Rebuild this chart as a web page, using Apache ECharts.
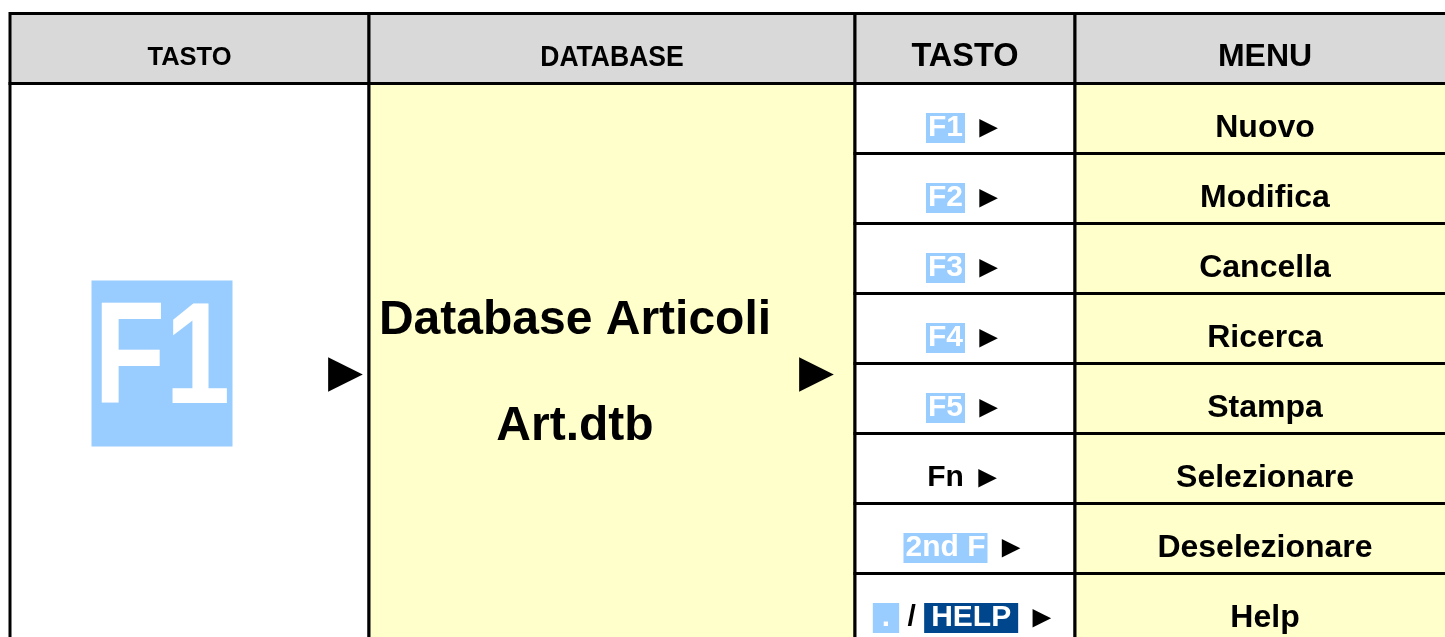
<!DOCTYPE html>
<html><head><meta charset="utf-8">
<script src="https://cdn.jsdelivr.net/npm/echarts@6/dist/echarts.min.js"></script>
<style>html,body{margin:0;padding:0;background:#fff}#c{width:1445px;height:637px}</style>
</head><body><div id="c"></div>
<script>
// ---- data ----
const headers = ['TASTO', 'DATABASE', 'TASTO', 'MENU'];
const mainKey = 'F1';
const databaseLines = ['Database Articoli', 'Art.dtb'];
const menuKeys = ['F1', 'F2', 'F3', 'F4', 'F5', 'Fn', '2nd F', '. / HELP'];
const menuItems = ['Nuovo', 'Modifica', 'Cancella', 'Ricerca', 'Stampa', 'Selezionare', 'Deselezionare', 'Help'];
const arrow = '\u25BA';

// ---- layout / style ----
const FONT = '"Liberation Sans", Arial, sans-serif';
const ROW_H = 70;
const TOP = 13.5, LEFT = 10, W = 1445, H = 637;
const colEdges = [0, 359, 845, 1065, 1445];   // last column runs past the right edge
const GRAY = '#d9d9d9', YELLOW = '#ffffcc', LIGHT = '#99ccff', DARK = '#00468c';

const cells = [];
headers.forEach((h, i) => cells.push({ c: i, r0: 0, r1: 1, fill: GRAY, kind: 'header', text: h }));
cells.push({ c: 0, r0: 1, r1: 1 + menuItems.length, fill: '#ffffff', kind: 'main', text: mainKey });
cells.push({ c: 1, r0: 1, r1: 1 + menuItems.length, fill: YELLOW, kind: 'db', text: databaseLines.join('\n\n') });
menuKeys.forEach((k, i) => cells.push({ c: 2, r0: 1 + i, r1: 2 + i, fill: '#ffffff', kind: 'key', text: k }));
menuItems.forEach((m, i) => cells.push({ c: 3, r0: 1 + i, r1: 2 + i, fill: YELLOW, kind: 'menu', text: m }));
const seriesData = cells.map(d => [colEdges[d.c], colEdges[d.c + 1], d.r0, d.r1]);

function keyStyle(t, multi) {
  if (t === 'Fn' || t === '/') return 'plain';
  if (t === 'HELP') return multi ? 'darkW' : 'dark';
  return multi ? 'lightW' : 'light';
}
function keyRich(text) {
  const parts = text.split(' / ');
  const multi = parts.length > 1;
  const toks = [];
  parts.forEach((p, i) => { if (i > 0) toks.push('/'); toks.push(p); });
  return toks.map(t => '{' + keyStyle(t, multi) + '|' + t + '}').join('{plain| }') + '{plain| }{a|' + arrow + '}';
}

const headerFonts = [25.5, 29, 32.5, 32];
const headerScale = [1, 0.915, 1, 1];
const KF = 30;
const keyBase = { fontSize: KF, fontWeight: 'bold', fontFamily: FONT, lineHeight: 34 };

function renderItem(params, api) {
  const d = cells[params.dataIndex];
  const p0 = api.coord([api.value(0), api.value(2)]);
  const p1 = api.coord([api.value(1), api.value(3)]);
  const x = p0[0], y = p0[1], w = p1[0] - p0[0], h = p1[1] - p0[1];
  const cx = x + w / 2, cy = y + h / 2;
  const children = [{
    type: 'rect', shape: { x: x, y: y, width: w, height: h },
    style: { fill: d.fill, stroke: '#000', lineWidth: 3 }
  }];
  if (d.kind === 'header') {
    children.push({
      type: 'text', x: cx, y: cy + 9, scaleX: headerScale[d.c],
      style: { x: 0, y: 0, text: d.text, font: 'bold ' + headerFonts[d.c] + 'px ' + FONT, fill: '#000', align: 'center', verticalAlign: 'middle' }
    });
  } else if (d.kind === 'menu') {
    children.push({
      type: 'text', x: cx, y: cy + 9.5,
      style: { x: 0, y: 0, text: d.text, font: 'bold 32px ' + FONT, fill: '#000', align: 'center', verticalAlign: 'middle' }
    });
  } else if (d.kind === 'key') {
    children.push({
      type: 'text', x: cx, y: cy + 9.5,
      style: {
        x: 0, y: 0, text: keyRich(d.text), align: 'center', verticalAlign: 'middle',
        font: 'bold ' + KF + 'px ' + FONT, fill: '#000',
        rich: {
          light: Object.assign({ fill: '#fff', backgroundColor: LIGHT, padding: [0, 2] }, keyBase),
          dark: Object.assign({ fill: '#fff', backgroundColor: DARK, padding: [0, 2] }, keyBase),
          lightW: Object.assign({ fill: '#fff', backgroundColor: LIGHT, padding: [0, 9] }, keyBase),
          darkW: Object.assign({ fill: '#fff', backgroundColor: DARK, padding: [0, 7] }, keyBase),
          plain: Object.assign({ fill: '#000' }, keyBase),
          a: { fill: '#000', fontSize: 31, fontFamily: FONT, lineHeight: 34 }
        }
      }
    });
  } else if (d.kind === 'main') {
    children.push({
      type: 'text', x: x + 152, y: cy, scaleX: 0.81,
      style: { x: 0, y: 0, text: d.text, font: 'bold 144px ' + FONT, fill: '#fff', backgroundColor: LIGHT, padding: [0, 3], lineHeight: 166, align: 'center', verticalAlign: 'middle' }
    });
    children.push({
      type: 'text', x: x + w - 23.5, y: cy + 11.5,
      style: { x: 0, y: 0, text: arrow, font: '58px ' + FONT, fill: '#000', align: 'center', verticalAlign: 'middle' }
    });
  } else if (d.kind === 'db') {
    children.push({
      type: 'text', x: x + 206, y: cy + 10,
      style: { x: 0, y: 0, text: d.text, font: 'bold 48px ' + FONT, lineHeight: 53, fill: '#000', align: 'center', verticalAlign: 'middle' }
    });
    children.push({
      type: 'text', x: x + w - 38.5, y: cy + 11.5,
      style: { x: 0, y: 0, text: arrow, font: '58px ' + FONT, fill: '#000', align: 'center', verticalAlign: 'middle' }
    });
  }
  return { type: 'group', children: children };
}

const chart = echarts.init(document.getElementById('c'), null, { renderer: 'canvas' });
chart.setOption({
  animation: false,
  grid: { left: LEFT, top: TOP, right: 0, bottom: 0 },
  xAxis: { type: 'value', min: 0, max: W - LEFT, show: false },
  yAxis: { type: 'value', min: 0, max: (H - TOP) / ROW_H, inverse: true, show: false },
  series: [{
    type: 'custom', renderItem: renderItem, data: seriesData, clip: false,
    encode: { x: [0, 1], y: [2, 3] }
  }]
});
</script>
</body></html>
